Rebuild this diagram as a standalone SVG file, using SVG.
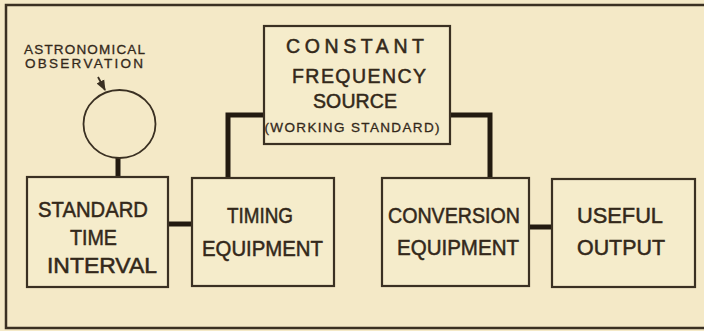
<svg xmlns="http://www.w3.org/2000/svg" width="704" height="331" viewBox="0 0 704 331">
<defs>
<style>
.bg{fill:#f4e9c7}
.frame{fill:none;stroke:#3a3022;stroke-width:2.5}
.box{fill:#f5eccb;stroke:#3a3022;stroke-width:2.2}
.conn{fill:none;stroke:#221a10;stroke-width:5;stroke-linejoin:miter}
.thin{fill:none;stroke:#3a3022;stroke-width:1.8}
.lbl{font-family:"Liberation Sans",Arial,sans-serif;fill:#33281a;stroke:#33281a;stroke-width:0.5;text-anchor:middle}
.big{font-size:21.5px}
.mid{font-size:19.5px}
.sm{font-size:13.5px;stroke-width:0.3}
</style>
<marker id="arr" viewBox="0 0 10 10" refX="9" refY="5" markerWidth="6" markerHeight="6" orient="auto">
<path d="M0,1 L10,5 L0,9 z" fill="#3a3022"/>
</marker>
</defs>
<rect class="bg" x="0" y="0" width="704" height="331"/>
<path class="frame" d="M704,5 H6 V328 H704"/>

<g id="connectors">
<line class="conn" x1="118" y1="158" x2="118" y2="178"/>
<line class="conn" x1="168" y1="224" x2="192" y2="224"/>
<path class="conn" d="M228,178 V115 H264"/>
<path class="conn" d="M450,115 H490 V178"/>
<line class="conn" x1="529" y1="227" x2="552" y2="227"/>
<line class="thin" x1="98" y1="77" x2="105" y2="90" marker-end="url(#arr)"/>
</g>

<g id="astronomical">
<ellipse class="thin" cx="119.5" cy="124" rx="36" ry="34" fill="none"/>
<text class="lbl sm" x="84.5" y="54" textLength="121" lengthAdjust="spacing">ASTRONOMICAL</text>
<text class="lbl sm" x="84" y="68" textLength="118" lengthAdjust="spacing">OBSERVATION</text>
</g>

<g id="cfs">
<rect class="box" x="264" y="26" width="186" height="118"/>
<text class="lbl mid" x="355" y="53" textLength="138" lengthAdjust="spacing">CONSTANT</text>
<text class="lbl mid" x="359" y="83" textLength="134" lengthAdjust="spacing">FREQUENCY</text>
<text class="lbl mid" x="355" y="108" textLength="84" lengthAdjust="spacing">SOURCE</text>
<text class="lbl sm" x="352" y="132" textLength="175" lengthAdjust="spacing">(WORKING STANDARD)</text>
</g>

<g id="sti">
<rect class="box" x="27" y="177" width="141" height="110"/>
<text class="lbl big" x="93" y="217" textLength="110" lengthAdjust="spacingAndGlyphs">STANDARD</text>
<text class="lbl big" x="93.5" y="245" textLength="47" lengthAdjust="spacingAndGlyphs">TIME</text>
<text class="lbl big" x="102" y="273" textLength="110" lengthAdjust="spacingAndGlyphs">INTERVAL</text>
</g>

<g id="timing">
<rect class="box" x="192" y="178" width="142" height="108"/>
<text class="lbl big" x="260" y="223" textLength="66" lengthAdjust="spacingAndGlyphs">TIMING</text>
<text class="lbl big" x="262.5" y="256" textLength="121" lengthAdjust="spacingAndGlyphs">EQUIPMENT</text>
</g>

<g id="conversion">
<rect class="box" x="382" y="178" width="147" height="108"/>
<text class="lbl big" x="454" y="223" textLength="132" lengthAdjust="spacingAndGlyphs">CONVERSION</text>
<text class="lbl big" x="458" y="255" textLength="122" lengthAdjust="spacingAndGlyphs">EQUIPMENT</text>
</g>

<g id="useful">
<rect class="box" x="552" y="179" width="143" height="108"/>
<text class="lbl big" x="620" y="223" textLength="86" lengthAdjust="spacingAndGlyphs">USEFUL</text>
<text class="lbl big" x="621" y="255" textLength="88" lengthAdjust="spacingAndGlyphs">OUTPUT</text>
</g>
</svg>
